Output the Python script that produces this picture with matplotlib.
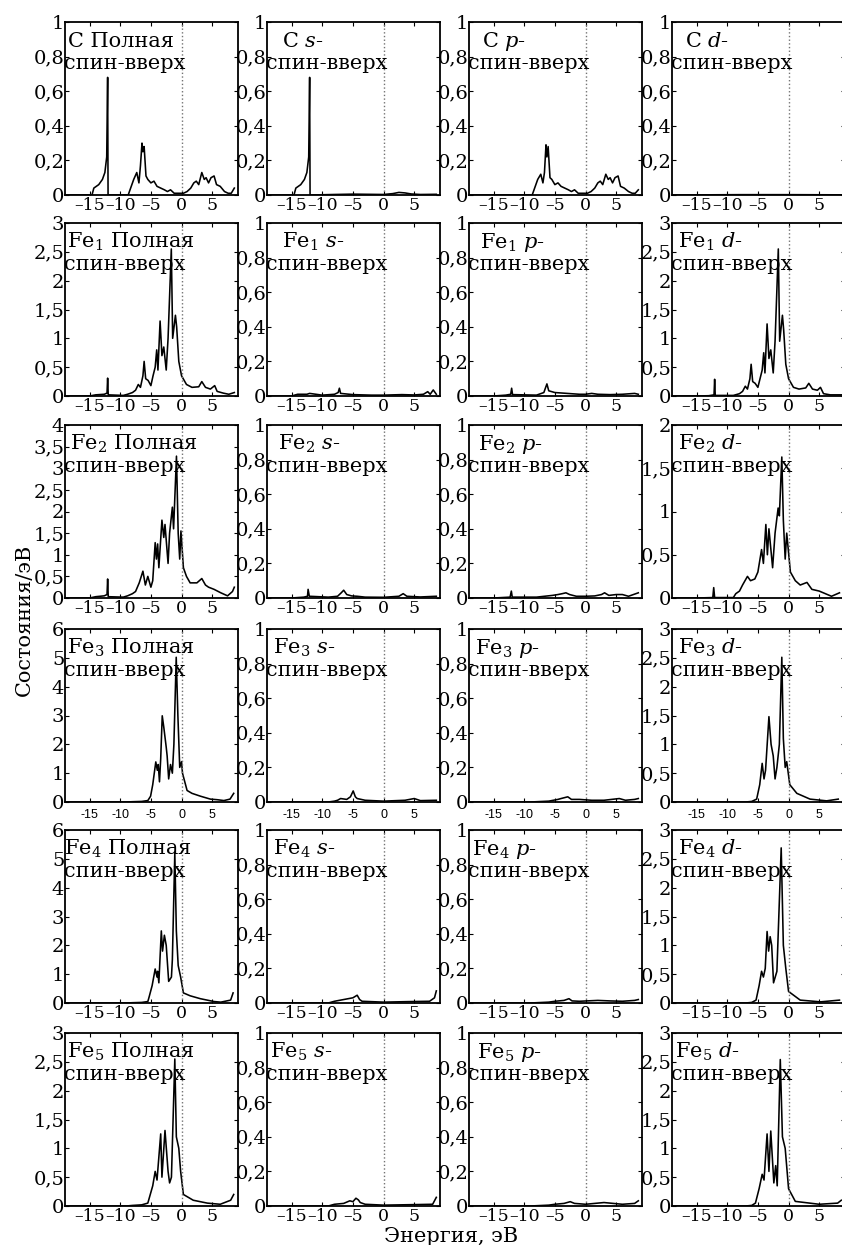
"""
Spin-up partial densities of states for C and Fe1..Fe5 (6 x 4 grid of panels).
"""

import numpy as np
import matplotlib

matplotlib.use("Agg")
import matplotlib.pyplot as plt

plt.rcParams["font.family"] = ["DejaVu Serif"]
plt.rcParams["mathtext.fontset"] = "dejavuserif"

FIG_W, FIG_H = 842, 1245
COL_LEFT = [65, 267, 469, 672]
ROW_TOP = [22, 223, 425, 629, 830, 1033]
PANEL_W, PANEL_H = 173, 173
XLIM = (-19.0, 9.2)
XTICK_SIZE = 12.5
YTICK_SIZE = 14
TEXT_SIZE = 15

atoms = ["C", "Fe$_1$", "Fe$_2$", "Fe$_3$", "Fe$_4$", "Fe$_5$"]
orbitals = ["Полная", "$\\mathit{s}$-", "$\\mathit{p}$-", "$\\mathit{d}$-"]
y_max = [
    [1, 1, 1, 1],
    [3, 1, 1, 3],
    [4, 1, 1, 2],
    [6, 1, 1, 3],
    [6, 1, 1, 3],
    [3, 1, 1, 3],
]
x_ticks = [-15, -10, -5, 0, 5]

# (energy eV, states/eV)
c_total = [(-19.0, 0), (-14.6, 0), (-14.3, 0.04), (-13.5, 0.06), (-12.9, 0.09), (-12.5, 0.13),
           (-12.2, 0.22), (-12.05, 0.68), (-11.98, 0), (-8.7, 0), (-8.3, 0.04), (-7.8, 0.09),
           (-7.3, 0.13), (-6.95, 0.07), (-6.7, 0.17), (-6.45, 0.30), (-6.3, 0.25), (-6.1, 0.28),
           (-5.8, 0.11), (-5.5, 0.09), (-5.0, 0.07), (-4.5, 0.08), (-4.0, 0.05), (-3.4, 0.04),
           (-2.8, 0.03), (-2.3, 0.02), (-1.8, 0.03), (-1.2, 0.01), (-0.5, 0.01), (0.3, 0.01),
           (0.9, 0.02), (1.5, 0.04), (2.0, 0.07), (2.4, 0.08), (2.8, 0.06), (3.3, 0.13),
           (3.7, 0.09), (4.0, 0.10), (4.4, 0.07), (4.8, 0.10), (5.3, 0.11), (5.7, 0.06),
           (6.3, 0.05), (7.0, 0.02), (7.6, 0.01), (8.1, 0.01), (8.6, 0.04)]
c_s = [(-19.0, 0), (-14.6, 0), (-14.3, 0.04), (-13.5, 0.06), (-12.9, 0.09), (-12.5, 0.13),
       (-12.2, 0.22), (-12.05, 0.68), (-11.98, 0), (-8.0, 0.003), (-5.0, 0.005), (0.0, 0.003),
       (1.5, 0.008), (2.5, 0.015), (3.5, 0.012), (4.5, 0.006), (6.0, 0.003), (8.6, 0.004)]
c_p = [(-19.0, 0), (-8.7, 0), (-8.3, 0.04), (-7.8, 0.09), (-7.3, 0.12), (-6.95, 0.07),
       (-6.7, 0.13), (-6.45, 0.29), (-6.3, 0.22), (-6.1, 0.28), (-5.8, 0.10), (-5.5, 0.09),
       (-5.0, 0.06), (-4.5, 0.07), (-4.0, 0.05), (-3.4, 0.04), (-2.8, 0.03), (-2.3, 0.02),
       (-1.8, 0.03), (-1.2, 0.01), (-0.5, 0.01), (0.3, 0.01), (0.9, 0.02), (1.5, 0.04),
       (2.0, 0.07), (2.4, 0.08), (2.8, 0.06), (3.3, 0.12), (3.7, 0.09), (4.0, 0.10),
       (4.4, 0.07), (4.8, 0.10), (5.3, 0.11), (5.7, 0.05), (6.3, 0.04), (7.0, 0.02),
       (7.6, 0.01), (8.1, 0.01), (8.6, 0.03)]
c_d = [(-19.0, 0), (-8.0, 0.002), (0.0, 0.002), (8.6, 0.001)]

fe1_total = [(-19.0, 0), (-15.0, 0), (-14.0, 0.02), (-12.6, 0.03), (-12.15, 0.05), (-12.05, 0.31),
             (-11.95, 0.02), (-9.5, 0.01), (-8.8, 0.03), (-8.0, 0.06), (-7.5, 0.1), (-7.05, 0.2),
             (-6.7, 0.15), (-6.3, 0.35), (-6.1, 0.6), (-5.85, 0.3), (-5.45, 0.27), (-5.0, 0.18),
             (-4.65, 0.35), (-4.3, 0.5), (-4.05, 0.8), (-3.85, 0.45), (-3.5, 1.3), (-3.2, 0.7),
             (-2.9, 0.85), (-2.5, 0.45), (-2.2, 1.0), (-1.67, 2.55), (-1.45, 1.0), (-1.0, 1.4),
             (-0.8, 1.2), (-0.45, 0.6), (0.0, 0.35), (0.8, 0.2), (1.7, 0.15), (2.8, 0.16),
             (3.3, 0.25), (3.9, 0.15), (4.7, 0.12), (5.4, 0.18), (5.8, 0.08), (6.8, 0.05),
             (7.7, 0.03), (8.6, 0.06)]
fe1_s = [(-19.0, 0), (-15.0, 0), (-14.0, 0.01), (-12.5, 0.01), (-12.05, 0.015), (-10.0, 0.005),
         (-8.0, 0.01), (-7.4, 0.02), (-7.2, 0.045), (-7.0, 0.015), (-5.0, 0.008), (-2.0, 0.005),
         (0.0, 0.005), (3.0, 0.008), (5.0, 0.006), (6.5, 0.01), (7.2, 0.025), (7.6, 0.01),
         (8.1, 0.035), (8.6, 0.01)]
fe1_p = [(-19.0, 0), (-15.0, 0), (-13.0, 0.005), (-12.2, 0.01), (-12.05, 0.045), (-11.9, 0.008),
         (-8.0, 0.005), (-6.8, 0.02), (-6.3, 0.07), (-6.0, 0.03), (-5.0, 0.02), (-3.0, 0.015),
         (-1.0, 0.01), (0.0, 0.01), (1.0, 0.015), (2.0, 0.01), (4.0, 0.008), (6.0, 0.01),
         (8.0, 0.015), (8.6, 0.01)]
fe1_d = [(-19.0, 0), (-15.0, 0), (-13.0, 0.005), (-12.15, 0.02), (-12.05, 0.29), (-11.95, 0.01),
         (-9.0, 0.01), (-8.0, 0.04), (-7.5, 0.08), (-7.05, 0.17), (-6.7, 0.12), (-6.3, 0.3),
         (-6.1, 0.55), (-5.85, 0.25), (-5.45, 0.22), (-5.0, 0.15), (-4.65, 0.3), (-4.3, 0.45),
         (-4.05, 0.75), (-3.85, 0.4), (-3.5, 1.25), (-3.2, 0.65), (-2.9, 0.8), (-2.5, 0.4),
         (-2.2, 0.95), (-1.67, 2.55), (-1.45, 0.95), (-1.0, 1.4), (-0.8, 1.15), (-0.45, 0.55),
         (0.0, 0.3), (0.8, 0.15), (1.7, 0.12), (2.8, 0.14), (3.3, 0.22), (3.9, 0.12),
         (4.7, 0.1), (5.2, 0.15), (5.7, 0.04), (6.8, 0.02), (8.6, 0.02)]

fe2_total = [(-19.0, 0), (-15.0, 0), (-14.0, 0.03), (-12.6, 0.05), (-12.15, 0.08), (-12.05, 0.44),
             (-11.95, 0.03), (-9.5, 0.02), (-8.8, 0.05), (-8.0, 0.1), (-7.5, 0.15), (-6.9, 0.35),
             (-6.3, 0.62), (-5.9, 0.3), (-5.5, 0.5), (-5.0, 0.25), (-4.7, 0.4), (-4.3, 1.28),
             (-4.1, 0.9), (-3.9, 1.25), (-3.7, 0.7), (-3.2, 1.8), (-2.9, 1.4), (-2.7, 1.7),
             (-2.2, 0.8), (-1.95, 1.5), (-1.5, 2.1), (-1.3, 1.6), (-0.83, 3.28), (-0.55, 1.5),
             (-0.3, 0.9), (-0.1, 1.55), (0.3, 0.7), (0.8, 0.5), (1.4, 0.35), (2.5, 0.35),
             (3.3, 0.45), (3.9, 0.3), (4.4, 0.25), (5.3, 0.2), (6.4, 0.12), (7.5, 0.05),
             (8.3, 0.15), (8.6, 0.25)]
fe2_s = [(-19.0, 0), (-15.0, 0), (-13.0, 0.005), (-12.4, 0.01), (-12.3, 0.05), (-12.1, 0.01),
         (-9.0, 0.005), (-7.5, 0.01), (-6.9, 0.03), (-6.5, 0.045), (-6.0, 0.02), (-5.2, 0.012),
         (-4.3, 0.01), (-3.0, 0.005), (0.0, 0.004), (2.5, 0.01), (3.2, 0.025), (3.8, 0.01),
         (6.0, 0.006), (8.6, 0.01)]
fe2_p = [(-19.0, 0), (-15.0, 0), (-12.3, 0.005), (-12.1, 0.04), (-11.95, 0.005), (-8.0, 0.005),
         (-5.4, 0.015), (-4.5, 0.02), (-3.8, 0.025), (-3.2, 0.03), (-2.6, 0.02), (-1.5, 0.01),
         (0.0, 0.01), (1.5, 0.012), (2.6, 0.02), (3.1, 0.03), (3.8, 0.015), (5.0, 0.02),
         (6.0, 0.02), (7.0, 0.01), (8.6, 0.03)]
fe2_d = [(-19.0, 0), (-15.0, 0), (-12.35, 0.005), (-12.2, 0.12), (-12.05, 0.005), (-9.0, 0.005),
         (-8.6, 0.05), (-8.0, 0.08), (-7.5, 0.15), (-6.7, 0.25), (-6.2, 0.2), (-5.5, 0.22),
         (-5.0, 0.3), (-4.4, 0.56), (-4.1, 0.4), (-3.7, 0.85), (-3.45, 0.5), (-3.2, 0.8),
         (-2.6, 0.35), (-2.2, 0.75), (-1.7, 1.04), (-1.5, 0.95), (-1.1, 1.63), (-0.85, 0.9),
         (-0.55, 0.45), (-0.3, 0.75), (0.3, 0.3), (1.1, 0.2), (1.9, 0.15), (3.0, 0.18),
         (3.8, 0.1), (5.0, 0.08), (6.0, 0.05), (7.0, 0.02), (8.3, 0.06)]

fe3_total = [(-19.0, 0), (-9.0, 0), (-8.0, 0.01), (-6.5, 0.02), (-5.5, 0.05), (-5.05, 0.2),
             (-4.7, 0.6), (-4.2, 1.39), (-3.95, 1.1), (-3.8, 1.3), (-3.6, 0.7), (-3.4, 1.5),
             (-3.15, 2.99), (-2.9, 2.6), (-2.5, 1.9), (-2.35, 1.6), (-2.1, 0.8), (-1.8, 1.3),
             (-1.5, 1.0), (-1.25, 2.0), (-0.87, 5.02), (-0.6, 3.0), (-0.3, 1.2), (0.0, 1.4),
             (0.15, 1.0), (0.9, 0.4), (1.7, 0.3), (3.1, 0.2), (4.7, 0.1), (5.8, 0.08),
             (6.9, 0.05), (7.9, 0.1), (8.5, 0.3)]
fe3_s = [(-19.0, 0), (-9.0, 0), (-8.0, 0.005), (-7.5, 0.01), (-7.0, 0.02), (-6.0, 0.015),
         (-5.4, 0.03), (-4.95, 0.064), (-4.6, 0.03), (-4.3, 0.02), (-3.0, 0.01), (0.0, 0.005),
         (3.5, 0.01), (5.0, 0.02), (6.0, 0.008), (8.6, 0.01)]
fe3_p = [(-19.0, 0), (-9.0, 0), (-6.0, 0.005), (-4.5, 0.015), (-4.0, 0.02), (-2.9, 0.03),
         (-2.3, 0.015), (-1.0, 0.015), (1.0, 0.01), (3.0, 0.01), (5.5, 0.02), (6.5, 0.01),
         (8.0, 0.015), (8.6, 0.02)]
fe3_d = [(-19.0, 0), (-7.0, 0), (-6.0, 0.01), (-5.2, 0.05), (-4.7, 0.3), (-4.3, 0.67),
         (-4.0, 0.4), (-3.75, 0.55), (-3.2, 1.48), (-2.85, 1.0), (-2.5, 0.8), (-2.2, 0.4),
         (-1.9, 0.6), (-1.5, 1.0), (-1.1, 2.51), (-0.85, 1.1), (-0.55, 0.6), (-0.3, 0.7),
         (0.2, 0.3), (1.35, 0.15), (3.5, 0.05), (6.2, 0.02), (8.1, 0.05)]

fe4_total = [(-19.0, 0), (-9.0, 0), (-8.0, 0.01), (-6.5, 0.02), (-5.5, 0.05), (-5.3, 0.2),
             (-4.8, 0.6), (-4.3, 1.18), (-4.0, 0.9), (-3.9, 1.1), (-3.7, 0.7), (-3.3, 2.5),
             (-3.1, 1.8), (-2.8, 2.35), (-2.5, 2.0), (-2.1, 0.75), (-1.65, 0.9), (-1.5, 1.5),
             (-1.1, 5.2), (-0.85, 2.5), (-0.55, 1.3), (-0.15, 0.9), (0.3, 0.35), (1.4, 0.25),
             (3.05, 0.15), (5.3, 0.05), (6.4, 0.03), (8.0, 0.1), (8.4, 0.35)]
fe4_s = [(-19.0, 0), (-9.0, 0), (-8.0, 0.01), (-6.5, 0.02), (-5.0, 0.03), (-4.3, 0.045),
         (-3.9, 0.02), (-3.5, 0.01), (0.0, 0.005), (4.0, 0.008), (7.5, 0.01), (8.3, 0.03),
         (8.6, 0.07)]
fe4_p = [(-19.0, 0), (-9.0, 0), (-6.0, 0.005), (-5.0, 0.01), (-3.5, 0.015), (-2.7, 0.025),
         (-2.2, 0.012), (-1.0, 0.01), (2.0, 0.015), (4.0, 0.012), (6.0, 0.01), (8.0, 0.015),
         (8.6, 0.02)]
fe4_d = [(-19.0, 0), (-7.0, 0), (-6.0, 0.01), (-5.3, 0.05), (-4.8, 0.3), (-4.4, 0.55),
         (-4.1, 0.45), (-3.8, 0.6), (-3.5, 1.24), (-3.25, 0.9), (-3.0, 1.15), (-2.75, 1.0),
         (-2.45, 0.35), (-1.9, 0.55), (-1.2, 2.69), (-0.85, 1.0), (-0.45, 0.6), (0.0, 0.2),
         (1.9, 0.05), (5.2, 0.02), (8.3, 0.05)]

fe5_total = [(-19.0, 0), (-9.0, 0), (-8.0, 0.01), (-6.5, 0.02), (-5.5, 0.05), (-4.7, 0.35),
             (-4.3, 0.6), (-4.0, 0.45), (-3.4, 1.25), (-3.2, 0.5), (-2.7, 1.31), (-2.2, 0.6),
             (-1.95, 0.4), (-1.65, 0.5), (-1.1, 2.55), (-0.85, 1.2), (-0.45, 1.0), (-0.15, 0.6),
             (0.3, 0.2), (1.9, 0.1), (4.2, 0.05), (6.3, 0.03), (8.0, 0.1), (8.5, 0.2)]
fe5_s = [(-19.0, 0), (-9.0, 0), (-8.0, 0.01), (-6.5, 0.015), (-5.5, 0.03), (-5.0, 0.025),
         (-4.5, 0.045), (-4.1, 0.035), (-3.8, 0.02), (-3.0, 0.01), (0.0, 0.005), (5.0, 0.008),
         (8.0, 0.01), (8.6, 0.05)]
fe5_p = [(-19.0, 0), (-9.0, 0), (-6.0, 0.005), (-5.0, 0.01), (-3.5, 0.015), (-2.5, 0.025),
         (-1.8, 0.015), (0.0, 0.01), (3.0, 0.02), (4.5, 0.015), (6.0, 0.01), (8.0, 0.015),
         (8.6, 0.03)]
fe5_d = [(-19.0, 0), (-7.0, 0), (-6.0, 0.01), (-5.4, 0.05), (-4.8, 0.3), (-4.3, 0.55),
         (-4.0, 0.45), (-3.5, 1.25), (-3.2, 0.6), (-2.9, 1.3), (-2.4, 0.4), (-2.1, 0.7),
         (-1.85, 0.35), (-1.35, 2.54), (-1.0, 1.2), (-0.55, 1.0), (0.0, 0.3), (1.1, 0.08),
         (5.0, 0.03), (8.0, 0.05), (8.6, 0.1)]

curves = [
    [c_total, c_s, c_p, c_d],
    [fe1_total, fe1_s, fe1_p, fe1_d],
    [fe2_total, fe2_s, fe2_p, fe2_d],
    [fe3_total, fe3_s, fe3_p, fe3_d],
    [fe4_total, fe4_s, fe4_p, fe4_d],
    [fe5_total, fe5_s, fe5_p, fe5_d],
]

# indent of the first label line, pixels from the left spine
label_indent = [
    [3, 15, 13, 13],
    [2, 15, 11, 6],
    [5, 11, 9, 6],
    [2, 6, 6, 6],
    [-1, 6, 3, 6],
    [2, 3, 8, 3],
]


def comma(v: float) -> str:
    text = f"{v:g}"
    return text.replace(".", ",")


def panel(fig, row: int, col: int):
    left = COL_LEFT[col] / FIG_W
    bottom = 1 - (ROW_TOP[row] + PANEL_H) / FIG_H
    ax = fig.add_axes([left, bottom, PANEL_W / FIG_W, PANEL_H / FIG_H])

    energy, dos = np.array(curves[row][col]).T
    ax.plot(energy, dos, color="black", linewidth=1.15)
    ax.axvline(0, color="0.45", linestyle=":", linewidth=1.0)

    top = y_max[row][col]
    step = 1.0 if top == 6 else (0.2 if top == 1 else 0.5)
    y_ticks = np.round(np.arange(0, top + step / 2, step), 2)
    ax.set_xlim(*XLIM)
    ax.set_ylim(0, top)
    ax.set_yticks(y_ticks)
    ax.set_yticklabels([comma(v) for v in y_ticks], fontsize=YTICK_SIZE)
    ax.set_xticks(x_ticks)
    if row == 3:
        ax.set_xticklabels([str(v) for v in x_ticks], fontsize=9,
                           family=["Liberation Sans Narrow", "Liberation Sans", "DejaVu Sans"])
        ax.tick_params(axis="x", pad=5)
    else:
        ax.set_xticklabels([str(v).replace("-", "\u2013") for v in x_ticks], fontsize=XTICK_SIZE)
        ax.tick_params(axis="x", pad=1.5)
    ax.tick_params(direction="in", length=3, width=0.8, top=True, right=True)
    ax.tick_params(axis="y", pad=0.5)
    for spine in ax.spines.values():
        spine.set_linewidth(1.3)

    first = f"{atoms[row]} {orbitals[col]}"
    ax.text(label_indent[row][col] / PANEL_W, 0.89, first, transform=ax.transAxes,
            fontsize=TEXT_SIZE, ha="left", va="center")
    ax.text(-0.005, 0.76, "спин-вверх", transform=ax.transAxes,
            fontsize=TEXT_SIZE, ha="left", va="center")
    return ax


def main() -> None:
    fig = plt.figure(figsize=(FIG_W / 100, FIG_H / 100), dpi=100)
    for row in range(6):
        for col in range(4):
            panel(fig, row, col)

    fig.text(24 / FIG_W, 1 - 620 / FIG_H, "Состояния/эВ", rotation=90,
             ha="center", va="center", fontsize=TEXT_SIZE)
    fig.text(451 / FIG_W, 1 - 1236 / FIG_H, "Энергия, эВ",
             ha="center", va="center", fontsize=TEXT_SIZE)
    fig.savefig("out.png", dpi=100)


if __name__ == "__main__":
    main()
